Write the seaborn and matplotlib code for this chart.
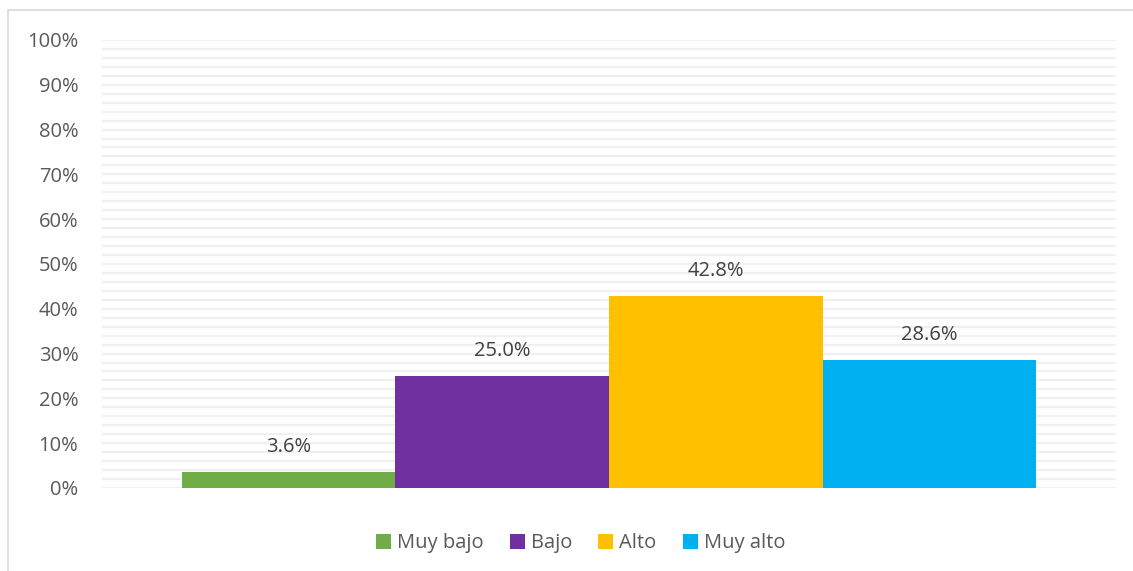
import matplotlib
matplotlib.use("Agg")
import matplotlib.pyplot as plt
import seaborn as sns
import pandas as pd
import numpy as np
from matplotlib.patches import Rectangle

categories = ["Muy bajo", "Bajo", "Alto", "Muy alto"]
values = [3.6, 25.0, 42.8, 28.6]
colors = ["#70AD47", "#7030A0", "#FFC000", "#00B0F0"]
yticks = [0, 10, 20, 30, 40, 50, 60, 70, 80, 90, 100]

df = pd.DataFrame({"grupo": [""] * len(categories), "nivel": categories, "valor": values})

sns.set_style("white")
plt.rcParams["font.family"] = ["Open Sans", "DejaVu Sans"]

fig = plt.figure(figsize=(11.33, 5.71), dpi=100)
ax = fig.add_axes([0.090, 0.1454, 0.895, 0.7846])

ax.set_axisbelow(True)
for y in np.arange(0, 101, 2):
    ax.axhline(y, color="#F0F0F0", lw=1.6, zorder=0)

sns.barplot(data=df, x="grupo", y="valor", hue="nivel", hue_order=categories,
            palette=colors, width=0.843, dodge=True, ax=ax, saturation=1,
            edgecolor="none", linewidth=0, legend=True)

for cont in ax.containers:
    ax.bar_label(cont, labels=[f"{v:.1f}%" for v in cont.datavalues], padding=11,
                 fontsize=14.5, color="#404040")

ax.set_xlim(-0.5, 0.5)
ax.set_ylim(0, 100)
ax.set_yticks(yticks)
ax.set_yticklabels([f"{t}%" for t in yticks], fontsize=14.5, color="#595959")
ax.tick_params(axis="y", length=0, pad=17)
ax.set_xticks([])
ax.set_xlabel("")
ax.set_ylabel("")
for s in ax.spines.values():
    s.set_visible(False)

leg = ax.legend(loc="upper center", bbox_to_anchor=(0.472, -0.083), ncol=4, frameon=False,
                fontsize=14.5, handlelength=0.75, handleheight=0.75, handletextpad=0.3,
                columnspacing=1.3, borderaxespad=0)
for t in leg.get_texts():
    t.set_color("#595959")

fig.patches.append(Rectangle((8 / 1133, -0.1), 1.2, (571 - 10) / 571 + 0.1,
                             transform=fig.transFigure, fill=False,
                             edgecolor="#D9D9D9", lw=1.2, figure=fig))

fig.savefig("out.png", dpi=100)
